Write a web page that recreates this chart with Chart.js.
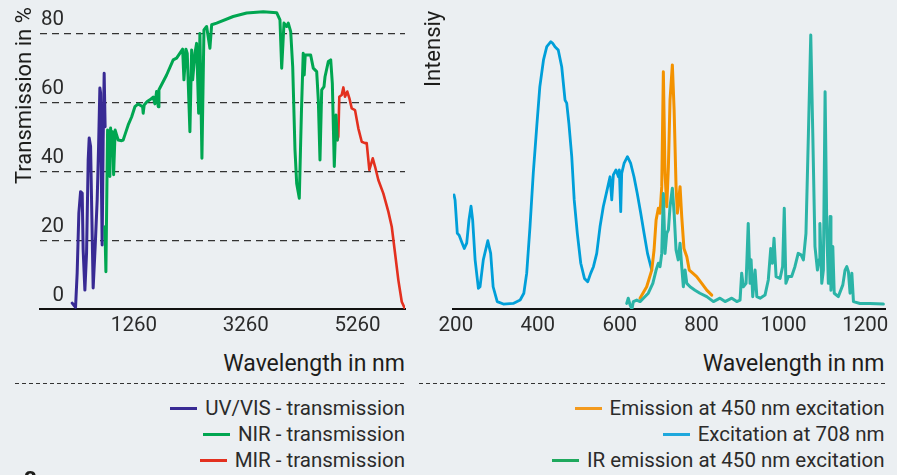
<!DOCTYPE html>
<html>
<head>
<meta charset="utf-8">
<script src="https://cdn.jsdelivr.net/npm/chart.js@4.4.0/dist/chart.umd.min.js"></script>
<style>
    body { margin: 0; width: 897px; height: 475px; overflow: hidden; position: relative;
           background: #ebeff2; font-family: Roboto, sans-serif; color: #1d1d1b; }
    canvas { position: absolute; top: 0; }
    #leftChart { left: 0; }
    #rightChart { left: 420px; }
    .ytitle { position: absolute; font-size: 22px; line-height: 1; white-space: nowrap;
              transform-origin: left top; transform: rotate(-90deg); }
    .xtitle { position: absolute; top: 352px; font-size: 23px; line-height: 1; white-space: nowrap; }
    .sep { position: absolute; top: 383px; height: 1px;
           background: repeating-linear-gradient(to right, #333 0 4px, transparent 4px 7px); }
    .legend { position: absolute; top: 396px; font-size: 20.5px; line-height: 25.8px; color: #2b2b2b; }
    .legend div { display: flex; justify-content: flex-end; align-items: center; white-space: nowrap; }
    .legend span.line { display: inline-block; width: 27px; height: 3px; margin-right: 8px; }
    #mark { position: absolute; left: 24px; top: 464px; font-size: 24px; font-weight: bold; line-height: 1; }
</style>
</head>
<body>
<canvas id="leftChart" width="420" height="340"></canvas>
<canvas id="rightChart" width="477" height="340"></canvas>

<div class="ytitle" style="left:12.5px; top:184px;">Transmission in %</div>
<div class="ytitle" style="left:422px; top:87px;">Intensiy</div>
<div class="xtitle" style="right:492px;">Wavelength in nm</div>
<div class="xtitle" style="right:12.5px;">Wavelength in nm</div>
<div class="sep" style="left:15px; width:392px;"></div>
<div class="sep" style="left:419px; width:466px;"></div>
<div class="legend" id="leftLegend" style="right:492px;"></div>
<div class="legend" id="rightLegend" style="right:12.5px;"></div>
<div id="mark">a</div>

<script>
// left plot - transmission, wavelength in nm / transmission in %
const uvNm = [156, 216, 245, 275, 306, 335, 352, 383, 413, 442, 460, 485, 508, 531, 567, 603, 628, 651, 664, 678, 692, 710, 728, 745]
const uvT = [1.7, 0.5, 10.5, 27.9, 34.1, 33.7, 17.2, 5.5, 16.3, 43.3, 49.7, 47.2, 26.5, 6.1, 18.1, 31.7, 47.2, 64.2, 62.8, 37.5, 18.6, 49.1, 68.5, 53]

const nirNm = [741, 759, 789, 812, 830, 843, 861, 879, 897, 906, 925, 950, 979, 1040, 1068, 1099, 1158, 1219, 1278, 1337,
    1416, 1426, 1444, 1498, 1546, 1605, 1636, 1666, 1695, 1708, 1845, 1963, 2024, 2132, 2155, 2191, 2214, 2262, 2293, 2311,
    2352, 2382, 2418, 2441, 2477, 2513, 2561, 2620, 2651, 2740, 3036, 3277, 3574, 3814, 3873, 3904, 3945, 3993, 4022, 4065,
    4101, 4142, 4172, 4219, 4240, 4258, 4289, 4307, 4325, 4350, 4422, 4469, 4530, 4559, 4589, 4620, 4661, 4679, 4738, 4781,
    4810, 4845, 4876, 4899]
const nirT = [23.9, 10.8, 52.0, 50.1, 38.5, 52.6, 47.2, 51.5, 39.0, 43.3, 52.0, 50.6, 49.1, 48.9, 49.1, 50.6, 53.5, 55.8, 58.8, 59.6,
    58.8, 56.9, 59.3, 60.3, 60.8, 61.6, 59.6, 63.2, 58.8, 63.7, 68.0, 72.4, 72.9, 75.5, 66.6, 75.5, 74.3, 51.5, 75.3, 66.6,
    74.3, 77.2, 56.9, 80.1, 43.8, 81.1, 82.1, 75.8, 82.6, 83.1, 85.0, 86.0, 86.4, 86.1, 84.0, 70.0, 83.1, 82.1, 83.1, 80.6,
    70.4, 46.2, 36.5, 32.2, 46.2, 57.8, 74.3, 68.0, 73.8, 73.8, 73.8, 70.0, 69.0, 60.8, 43.3, 63.7, 64.6, 67.5, 71.9, 72.4,
    65.6, 41.4, 56.4, 49.1]

const mirNm = [4899, 4917, 4935, 4978, 5007, 5037, 5078, 5114, 5157, 5216, 5275, 5336, 5395, 5425, 5472, 5533, 5574, 5633,
    5722, 5812, 5873, 5932, 5991, 6052, 6105]
const mirT = [49.1, 50.1, 61.7, 62.2, 64.4, 61.7, 63.2, 61.3, 58.3, 57.8, 52.5, 48.6, 48.2, 48.2, 40.4, 43.8, 41.4, 37.5,
    33.6, 28.3, 23.9, 16.2, 8.4, 2.1, 0.2]

const leftXTicks = [1260, 3260, 5260]
const leftYTicks = [0, 20, 40, 60, 80]

// right plot - spectra, arbitrary intensity 0..100
const emNm = [649.8, 666, 678.4, 684, 689, 694.5, 698.6, 702.8, 706.7, 710.8, 715, 719, 723, 728.7, 733, 737.7, 741, 747.5,
    751.6, 757, 764, 770, 778.5, 788, 800.5, 812.7, 825]
const emI = [3.5, 7.2, 12.6, 19.1, 28.8, 32.6, 31.0, 39.6, 76.8, 43.9, 33.1, 46.0, 67.6, 79.0, 64.4, 39.6, 31.0, 39.6,
    29.9, 19.6, 16.9, 12.6, 11.6, 10.5, 8.3, 6.1, 4.5]

const excNm = [195.5, 198, 203.5, 208, 214, 220.6, 226.5, 232, 237, 241, 247, 255, 259, 267, 278, 285, 291, 301, 316, 340,
    357, 366, 373, 381, 389, 397.5, 405, 414, 422, 432, 436.5, 442, 450, 458.5, 466.6, 470.7, 476, 483, 489, 496.6,
    505, 514, 522, 529.4, 536, 544, 552, 560, 568.4, 576.5, 580.7, 584.6, 591, 597, 599.2, 602.6, 605, 610.7, 619, 627,
    635, 643, 651.5, 659.6, 668, 678.4]
const excI = [36.9, 35.3, 24.5, 23.9, 21.8, 19.6, 21.3, 28.8, 33.3, 28.8, 15.9, 6.7, 7.2, 15.9, 22.1, 18.0, 7.2, 2.4, 1.6, 1.8,
    2.9, 5.1, 11.6, 26.6, 43.9, 59.0, 71.9, 80.6, 84.9, 86.5, 86.0, 84.9, 83.8, 78.4, 67.6, 66.6, 60.1, 49.3, 35.3, 24.5,
    14.8, 9.9, 8.8, 11.6, 13.7, 18.0, 26.6, 33.1, 38.0, 42.8, 35.3, 43.4, 45.0, 42.8, 45.0, 31.5, 43.9, 47.1, 49.3, 47.1,
    42.8, 37.4, 31.0, 24.5, 18.0, 12.6]

const irNm = [617.3, 621, 625.4, 630, 633.4, 641.7, 649.8, 658, 670, 681, 689, 694.5, 698.6, 702.8, 706.7, 710.8, 715, 719, 723, 728.7,
    733, 737.7, 743, 747.5, 751.6, 755.5, 759.7, 764, 772, 784, 796, 812.7, 829, 845, 857.4, 873.8, 886, 894, 898, 902,
    908.7, 914, 918.5, 921, 925, 930.7, 935, 943, 955, 963, 969, 973, 977, 982, 991.7, 998, 1002, 1006, 1012, 1020,
    1028, 1036, 1043, 1048.7, 1055, 1061, 1066.7, 1071.6, 1077, 1083, 1087, 1089, 1093.6, 1097.5, 1101.7, 1106, 1109.7, 1114, 1116, 1120.5,
    1124, 1134, 1145, 1150.5, 1154.7, 1158.6, 1162.7, 1167, 1171, 1187, 1211.6, 1244]
const irI = [1.8, 3.5, 1.3, 0, 2.4, 2.9, 2.4, 3.5, 5.1, 8.3, 12.6, 14.8, 13.7, 18.0, 37.4, 18.0, 24.5, 25.6, 33.1, 39.1,
    31.0, 19.1, 15.9, 21.3, 13.7, 7.2, 12.6, 8.3, 7.2, 6.1, 5.1, 4.0, 2.4, 3.5, 2.4, 3.5, 2.4, 2.9, 11.6, 7.2,
    8.3, 27.7, 8.3, 15.9, 4.0, 12.6, 4.0, 3.5, 4.5, 9.4, 19.6, 14.8, 22.9, 10.5, 9.9, 13.7, 32.6, 8.3, 10.5, 10.5,
    13.7, 18.0, 17.5, 15.9, 24.5, 56.9, 88.7, 56.9, 20.2, 12.6, 15.9, 27.7, 8.3, 12.6, 70.3, 24.5, 8.3, 29.9, 6.1, 20.2,
    5.1, 4.0, 7.8, 12.6, 13.7, 12.1, 5.1, 11.6, 2.4, 1.8, 1.8, 1.6]

const rightXTicks = [200, 400, 600, 800, 1000, 1200]

Chart.defaults.font.family = 'Roboto, sans-serif'
Chart.defaults.color = '#2b2b2b'

function pts(xs, ys) {
    const out = []
    for (let i = 0; i < xs.length; i++) {
        out.push({ x: xs[i], y: ys[i] })
    }
    return out
}

function line(label, xs, ys, color, order, width) {
    return {
        label: label,
        data: pts(xs, ys),
        borderColor: color,
        borderWidth: width || 3,
        pointRadius: 0,
        tension: 0,
        borderJoinStyle: 'round',
        borderCapStyle: 'round',
        order: order
    }
}

// fixed axis sizes so the plot area sits where the original one does
function xFit(scale) {
    scale.height = 31
    scale.paddingLeft = 0
    scale.paddingRight = 0
}
function yFit(scale) {
    scale.width = 0
    scale.paddingTop = 0
    scale.paddingBottom = 0
}
function setTicks(list) {
    return function (scale) {
        scale.ticks = list.map(v => ({ value: v }))
    }
}
// plain numbers, no thousands comma
const plain = v => String(v)

const xAxisBase = {
    type: 'linear',
    grid: { display: false, drawTicks: false },
    border: { display: true, color: '#111', width: 2 },
    ticks: { font: { size: 20.5 }, padding: 5, maxRotation: 0, callback: plain },
    afterFit: xFit
}

const leftDatasets = [
    line('UV/VIS - transmission', uvNm, uvT, '#382a94', 2),
    line('NIR - transmission', nirNm, nirT, '#00a651', 1),
    line('MIR - transmission', mirNm, mirT, '#e3301f', 3, 2.6)
]

const leftChart = new Chart(document.getElementById('leftChart'), {
    type: 'line',
    data: { datasets: leftDatasets },
    options: {
        responsive: false,
        animation: false,
        events: [],
        layout: { padding: { left: 40, right: 15, top: 0, bottom: 0 } },
        plugins: { legend: { display: false }, tooltip: { enabled: false } },
        scales: {
            x: Object.assign({}, xAxisBase, {
                min: -420, max: 6110,
                afterBuildTicks: setTicks(leftXTicks)
            }),
            y: {
                type: 'linear',
                min: 0, max: 89.8,
                afterBuildTicks: setTicks(leftYTicks),
                afterFit: yFit,
                grid: {
                    drawTicks: false,
                    lineWidth: 1.2,
                    color: ctx => ctx.tick && ctx.tick.value === 0 ? 'rgba(0,0,0,0)' : '#333'
                },
                border: { display: false, dash: [7, 5] },
                ticks: { mirror: true, crossAlign: 'far', padding: 1, labelOffset: -13.5, font: { size: 20.5 }, callback: plain }
            }
        }
    }
})

const rightDatasets = [
    line('Emission at 450 nm excitation', emNm, emI, '#f39200', 2),
    line('Excitation at 708 nm', excNm, excI, '#009fd9', 3, 2.8),
    line('IR emission at 450 nm excitation', irNm, irI, '#2bb4a7', 1)
]
rightDatasets[0].legendColor = '#f39a1e'
rightDatasets[1].legendColor = '#1ea8dd'
rightDatasets[2].legendColor = '#1fa95e'

const rightChart = new Chart(document.getElementById('rightChart'), {
    type: 'line',
    data: { datasets: rightDatasets },
    options: {
        responsive: false,
        animation: false,
        events: [],
        layout: { padding: { left: 33, right: 12, top: 0, bottom: 0 } },
        plugins: { legend: { display: false }, tooltip: { enabled: false } },
        scales: {
            x: Object.assign({}, xAxisBase, {
                min: 193, max: 1248,
                afterBuildTicks: setTicks(rightXTicks)
            }),
            y: { type: 'linear', min: 0, max: 100, display: false }
        }
    }
})

// legends as plain html rows, right aligned like the original
function makeLegend(el, datasets) {
    let html = ''
    for (let ds of datasets) {
        html += `<div><span class="line" style="background:${ds.legendColor || ds.borderColor}"></span>${ds.label}</div>`
    }
    el.innerHTML = html
}
makeLegend(document.getElementById('leftLegend'), leftDatasets)
makeLegend(document.getElementById('rightLegend'), rightDatasets)
</script>
</body>
</html>
